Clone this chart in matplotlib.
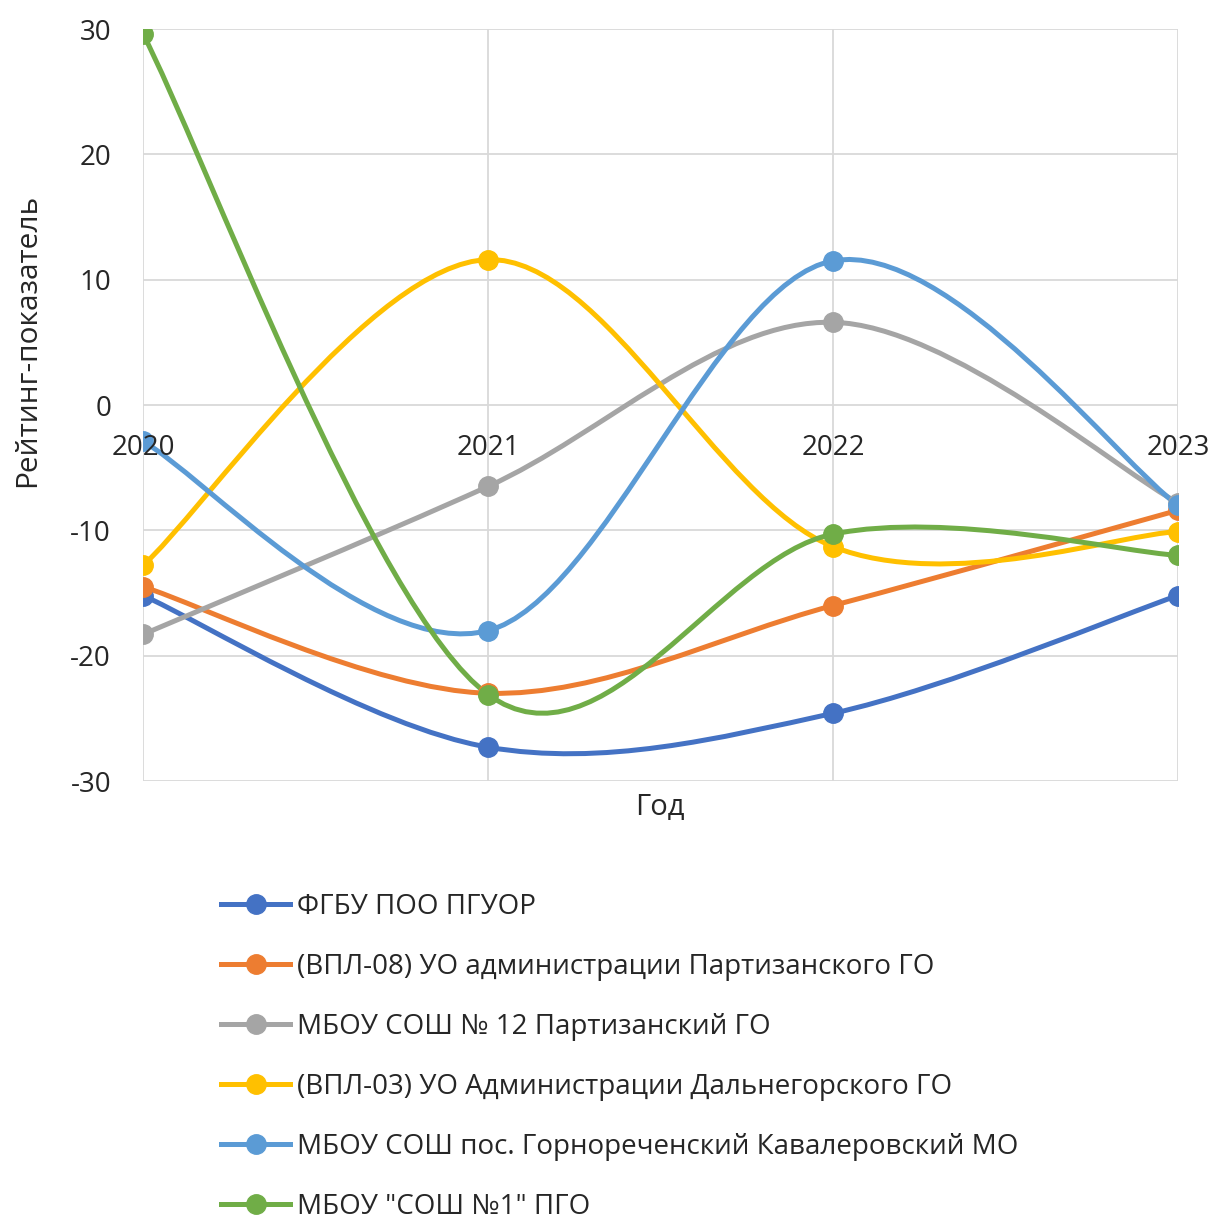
import matplotlib.pyplot as plt
import numpy as np
from matplotlib.path import Path
from matplotlib.patches import PathPatch
from matplotlib.lines import Line2D

years = [2020, 2021, 2022, 2023]
names = ['ФГБУ ПОО ПГУОР',
         '(ВПЛ-08) УО администрации Партизанского ГО',
         'МБОУ СОШ № 12 Партизанский ГО',
         '(ВПЛ-03) УО Администрации Дальнегорского ГО',
         'МБОУ СОШ пос. Горнореченский Кавалеровский МО',
         'МБОУ "СОШ №1" ПГО']
s_pguor = [-15.2, -27.3, -24.6, -15.2]
s_vpl08 = [-14.5, -23.0, -16.0, -8.4]
s_sosh12 = [-18.3, -6.5, 6.6, -7.8]
s_vpl03 = [-12.8, 11.6, -11.3, -10.1]
s_gorn = [-2.9, -18.0, 11.5, -8.0]
s_sosh1 = [29.6, -23.1, -10.3, -12.0]
series = [s_pguor, s_vpl08, s_sosh12, s_vpl03, s_gorn, s_sosh1]
colors = ['#4472C4', '#ED7D31', '#A5A5A5', '#FFC000', '#5B9BD5', '#70AD47']

plt.rcParams['font.family'] = ['Open Sans', 'DejaVu Sans']
plt.rcParams['axes.unicode_minus'] = False


def smooth_path(xs, ys):
    # excel-like smoothed line: cubic bezier segments, catmull-rom style control points
    pts = np.column_stack([xs, ys]).astype(float)
    n = len(pts)
    verts = [pts[0]]
    codes = [Path.MOVETO]
    for i in range(n - 1):
        p0 = pts[i - 1] if i > 0 else pts[i]
        p1 = pts[i]
        p2 = pts[i + 1]
        p3 = pts[i + 2] if i + 2 < n else pts[i + 1]
        c1 = p1 + (p2 - p0) / 6.0
        c2 = p2 - (p3 - p1) / 6.0
        verts += [c1, c2, p2]
        codes += [Path.CURVE4] * 3
    return Path(verts, codes)


fig = plt.figure(figsize=(12.14, 12.16), dpi=100)
ax = fig.add_axes([143 / 1214, 1 - 781 / 1216, (1178 - 143) / 1214, (781 - 29) / 1216])

for s, c in zip(series, colors):
    patch = PathPatch(smooth_path(years, s), facecolor='none', edgecolor=c, lw=3.6,
                      capstyle='round', joinstyle='round', zorder=3)
    ax.add_patch(patch)
    ax.plot(years, s, 'o', color=c, markersize=14, zorder=4)

ax.set_xlim(2020, 2023)
ax.set_ylim(-30, 30)
ax.set_yticks(np.arange(-30, 31, 10))
ax.set_xticks(years)
ax.set_xticklabels([])
ax.tick_params(length=0)
ax.tick_params(axis='y', labelsize=20, pad=23, colors='#262626')
ax.grid(True, color='#d9d9d9', lw=1.3)
ax.set_axisbelow(True)
for sp in ax.spines.values():
    sp.set_visible(False)

for yr in years:
    ax.annotate(str(yr), (yr, 0), xytext=(0, -21), textcoords='offset points',
                ha='center', va='top', fontsize=20, color='#262626', zorder=10)

fig.text(660 / 1214, 1 - 808 / 1216, 'Год', ha='center', va='center', fontsize=21, color='#262626')
fig.text(28 / 1214, 1 - 340 / 1216, 'Рейтинг-показатель', ha='center', va='center',
         rotation=90, fontsize=21.5, color='#262626')

handles = [Line2D([0], [0], color=c, lw=3.6, marker='o', markersize=14) for c in colors]
fig.legend(handles, names, loc='upper left', bbox_to_anchor=(196 / 1214, 1 - 868 / 1216),
           frameon=False, fontsize=20, handlelength=2.5, handletextpad=0.25,
           labelspacing=1.15, labelcolor='#262626')

plt.savefig('out.png')
